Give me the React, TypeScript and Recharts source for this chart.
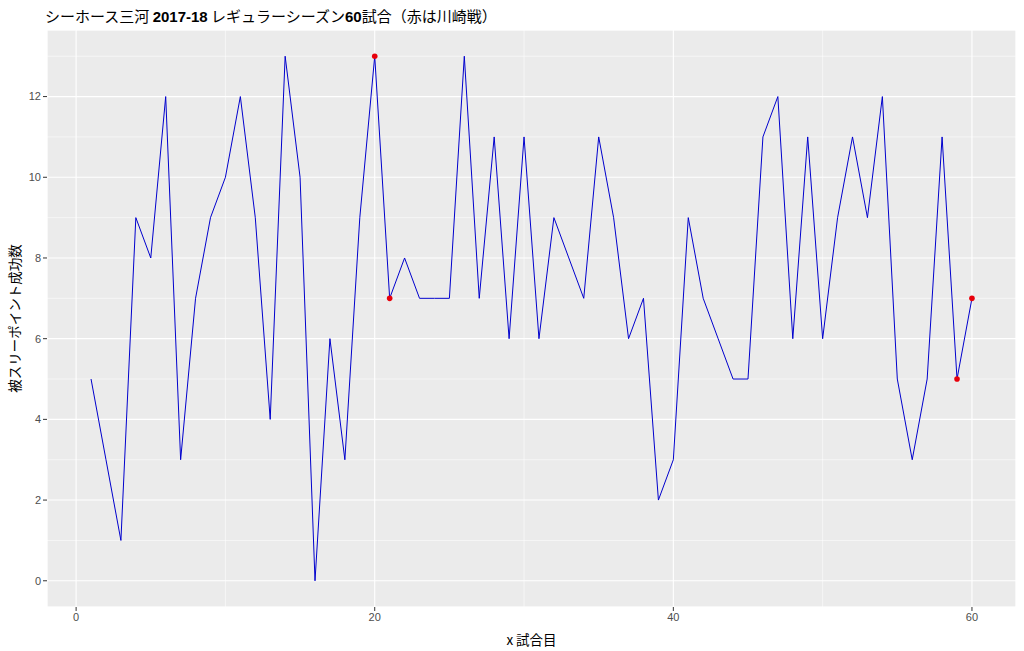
import { CartesianGrid, ComposedChart, Line, XAxis, YAxis } from "recharts";

const games = [
  1, 2, 3, 4, 5, 6, 7, 8, 9, 10, 11, 12, 13, 14, 15, 16, 17, 18, 19, 20,
  21, 22, 23, 24, 25, 26, 27, 28, 29, 30, 31, 32, 33, 34, 35, 36, 37, 38, 39, 40,
  41, 42, 43, 44, 45, 46, 47, 48, 49, 50, 51, 52, 53, 54, 55, 56, 57, 58, 59, 60,
];

// 被スリーポイント成功数
const made = [
  5, 3, 1, 9, 8, 12, 3, 7, 9, 10, 12, 9, 4, 13, 10, 0, 6, 3, 9, 13,
  7, 8, 7, 7, 7, 13, 7, 11, 6, 11, 6, 9, 8, 7, 11, 9, 6, 7, 2, 3,
  9, 7, 6, 5, 5, 11, 12, 6, 11, 6, 9, 11, 9, 12, 5, 3, 5, 11, 5, 7,
];

// 川崎戦
const kawasakiGames = [20, 21, 59, 60];

const xTicks = [0, 20, 40, 60];
const xMinorTicks = [10, 30, 50];
const yTicks = [0, 2, 4, 6, 8, 10, 12];
const yMinorTicks = [1, 3, 5, 7, 9, 11, 13];

const data = games.map((game, i) => ({ game, made: made[i] }));

const tickStyle = { fill: "#4D4D4D", fontSize: 11, fontFamily: "Liberation Sans, Arial, sans-serif" };
const jp = "'Noto Sans CJK JP', sans-serif";

const RedDot = (props: any) => {
  const { cx, cy, payload, index } = props;
  if (!kawasakiGames.includes(payload.game)) return <g key={index} />;
  return <circle key={index} cx={cx} cy={cy} r={2.8} fill="#E8000B" />;
};

export default function App() {
  return (
    <div style={{ position: "absolute", left: 0, top: 0, width: 1024, height: 651, background: "#fff" }}>
      <div
        style={{
          position: "absolute",
          left: 45,
          top: 6,
          fontSize: 15,
          fontFamily: jp,
          color: "#000",
          whiteSpace: "nowrap",
          lineHeight: "20px",
        }}
      >
        シーホース三河 <span style={{ fontFamily: "Liberation Sans, Arial", fontWeight: 700 }}>2017-18</span>{" "}
        レギュラーシーズン<span style={{ fontFamily: "Liberation Sans, Arial", fontWeight: 700 }}>60</span>試合（赤は川崎戦）
      </div>
      <ComposedChart width={1024} height={651} data={data} margin={{ top: 30, right: 8, left: 1, bottom: 0 }}>
        <CartesianGrid fill="#EBEBEB" stroke="#FFFFFF" strokeWidth={1.1} />
        <CartesianGrid xAxisId="minor" yAxisId="minor" stroke="#FFFFFF" strokeWidth={0.55} fill="none" />
        <XAxis
          dataKey="game"
          type="number"
          domain={[-1.95, 62.95]}
          allowDataOverflow
          ticks={xTicks}
          interval={0}
          axisLine={false}
          tickLine={{ stroke: "#333333" }}
          tickSize={4}
          tickMargin={2}
          tick={tickStyle}
          height={44}
          label={{ value: "x 試合目", position: "insideBottom", offset: 6, style: { fill: "#000", fontSize: 13.5, fontFamily: jp } }}
        />
        <XAxis xAxisId="minor" dataKey="game" type="number" domain={[-1.95, 62.95]} allowDataOverflow ticks={xMinorTicks} interval={0} hide />
        <YAxis
          type="number"
          domain={[-0.65, 13.65]}
          allowDataOverflow
          ticks={yTicks}
          interval={0}
          axisLine={false}
          tickLine={{ stroke: "#333333" }}
          tickSize={4}
          tickMargin={2}
          tick={tickStyle}
          width={46}
          label={{
            value: "被スリーポイント成功数",
            angle: -90,
            position: "insideLeft",
            offset: 14,
            style: { textAnchor: "middle", fill: "#000", fontSize: 13.5, fontFamily: jp },
          }}
        />
        <YAxis yAxisId="minor" type="number" domain={[-0.65, 13.65]} allowDataOverflow ticks={yMinorTicks} interval={0} hide />
        <Line
          dataKey="made"
          type="linear"
          stroke="#0000CD"
          strokeWidth={1}
          dot={RedDot}
          activeDot={false}
          isAnimationActive={false}
        />
      </ComposedChart>
    </div>
  );
}
